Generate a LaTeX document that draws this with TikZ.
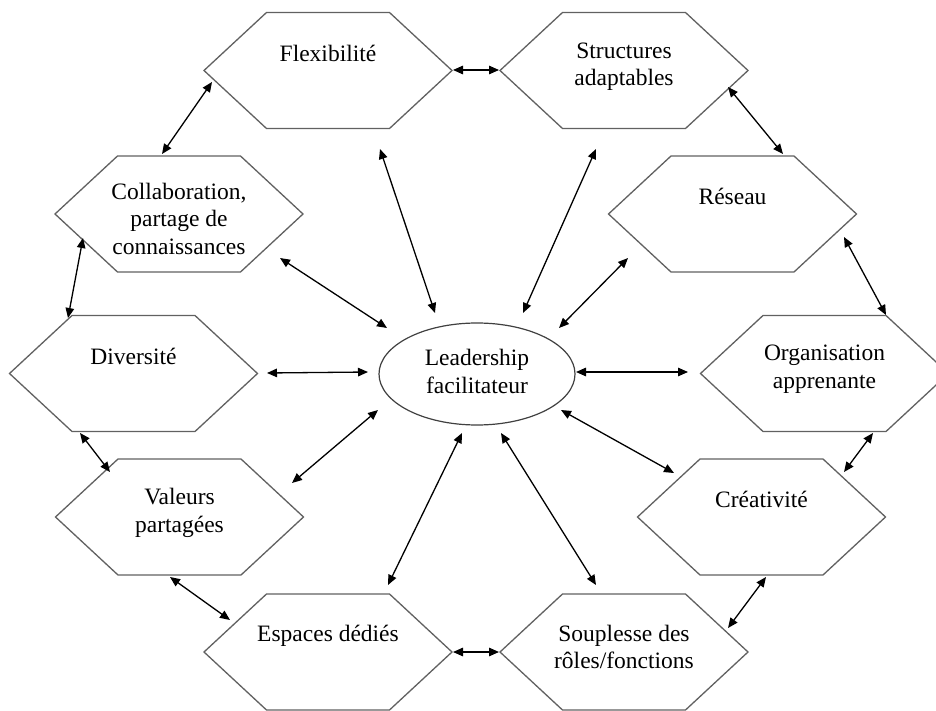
\documentclass[tikz,border=0pt]{standalone}
\usepackage{fontspec}
\setmainfont{Liberation Serif}
\usetikzlibrary{arrows.meta}
\tikzset{
  hexline/.style={draw=black!62, line width=1.3pt, line join=miter},
  ellline/.style={draw=black!75, line width=1.2pt},
  label/.style={inner sep=0pt, align=center, font=\fontsize{23.5}{27.5}\selectfont},
  link/.style={line width=1.3pt, {Triangle[length=10pt,width=8.5pt]}-{Triangle[length=10pt,width=8.5pt]}},
}
\newcommand\hexagonat[2]{%
  \draw[hexline] (#1-124,#2) -- (#1-61.5,#2-58) -- (#1+61.5,#2-58) -- (#1+124,#2)
    -- (#1+61.5,#2+58) -- (#1-61.5,#2+58) -- cycle;}
\begin{document}
\begin{tikzpicture}[x=1pt,y=-1pt]
\useasboundingbox (0,0) rectangle (936,711);
\fill[white] (0,0) rectangle (936,711);
% hexagons
\hexagonat{328}{70.5}
\hexagonat{624}{70.5}
\hexagonat{179}{214}
\hexagonat{732.5}{214}
\hexagonat{133.5}{373.5}
\hexagonat{824.5}{373.5}
\hexagonat{179.5}{517}
\hexagonat{761.5}{517}
\hexagonat{328}{652}
\hexagonat{624}{652}
% ellipse
\draw[ellline] (477,374) ellipse [x radius=98, y radius=51];
% labels
\node[label] (flex) at (328,53) {Flexibilité};
\node[label] (struct) at (624,66.5) {Structures\\adaptables};
\node[label] (collab) at (179,218.5) {Collaboration,\\partage de\\connaissances};
\node[label] (reseau) at (732.5,196) {Réseau};
\node[label] (divers) at (133.5,356) {Diversité};
\node[label] (org) at (824.5,369) {Organisation\\apprenante};
\node[label] (lead) at (477,371.5) {Leadership\\facilitateur};
\node[label] (val) at (179.5,513) {Valeurs\\partagées};
\node[label] (crea) at (761.5,499) {Créativité};
\node[label] (esp) at (328,636) {Espaces dédiés};
\node[label] (soup) at (624,647) {Souplesse des\\rôles/fonctions};
% connector end points
\coordinate (fc1) at (212,82);   \coordinate (fc2) at (162,154);
\coordinate (fs1) at (453,70);   \coordinate (fs2) at (499,70);
\coordinate (sr1) at (728,87);   \coordinate (sr2) at (783,154);
\coordinate (cd1) at (83,238);   \coordinate (cd2) at (68,318);
\coordinate (fl1) at (380,149);  \coordinate (fl2) at (435,313);
\coordinate (cl1) at (280,258);  \coordinate (cl2) at (387,328);
\coordinate (sl1) at (596,149);  \coordinate (sl2) at (523,313);
\coordinate (rl1) at (628,258);  \coordinate (rl2) at (559,328);
\coordinate (ro1) at (844,237);  \coordinate (ro2) at (886,315);
\coordinate (dl1) at (267,373);  \coordinate (dl2) at (368,372);
\coordinate (lo1) at (576,372);  \coordinate (lo2) at (688,372);
\coordinate (dv1) at (80,433);   \coordinate (dv2) at (110,472);
\coordinate (vl1) at (292,483);  \coordinate (vl2) at (378,410);
\coordinate (lc1) at (561,410);  \coordinate (lc2) at (674,473);
\coordinate (oc1) at (873,433);  \coordinate (oc2) at (844,472);
\coordinate (ve1) at (170,577);  \coordinate (ve2) at (230,620);
\coordinate (el1) at (388,585);  \coordinate (el2) at (462,433);
\coordinate (ls1) at (501,433);  \coordinate (ls2) at (596,585);
\coordinate (cs1) at (766,577);  \coordinate (cs2) at (728,628);
\coordinate (es1) at (453,652);  \coordinate (es2) at (499,652);
% connectors
\draw[link] (fc1) -- (fc2);
\draw[link] (fs1) -- (fs2);
\draw[link] (sr1) -- (sr2);
\draw[link] (cd1) -- (cd2);
\draw[link] (fl1) -- (fl2);
\draw[link] (cl1) -- (cl2);
\draw[link] (sl1) -- (sl2);
\draw[link] (rl1) -- (rl2);
\draw[link] (ro1) -- (ro2);
\draw[link] (dl1) -- (dl2);
\draw[link] (lo1) -- (lo2);
\draw[link] (dv1) -- (dv2);
\draw[link] (vl1) -- (vl2);
\draw[link] (lc1) -- (lc2);
\draw[link] (oc1) -- (oc2);
\draw[link] (ve1) -- (ve2);
\draw[link] (el1) -- (el2);
\draw[link] (ls1) -- (ls2);
\draw[link] (cs1) -- (cs2);
\draw[link] (es1) -- (es2);
\end{tikzpicture}
\end{document}
